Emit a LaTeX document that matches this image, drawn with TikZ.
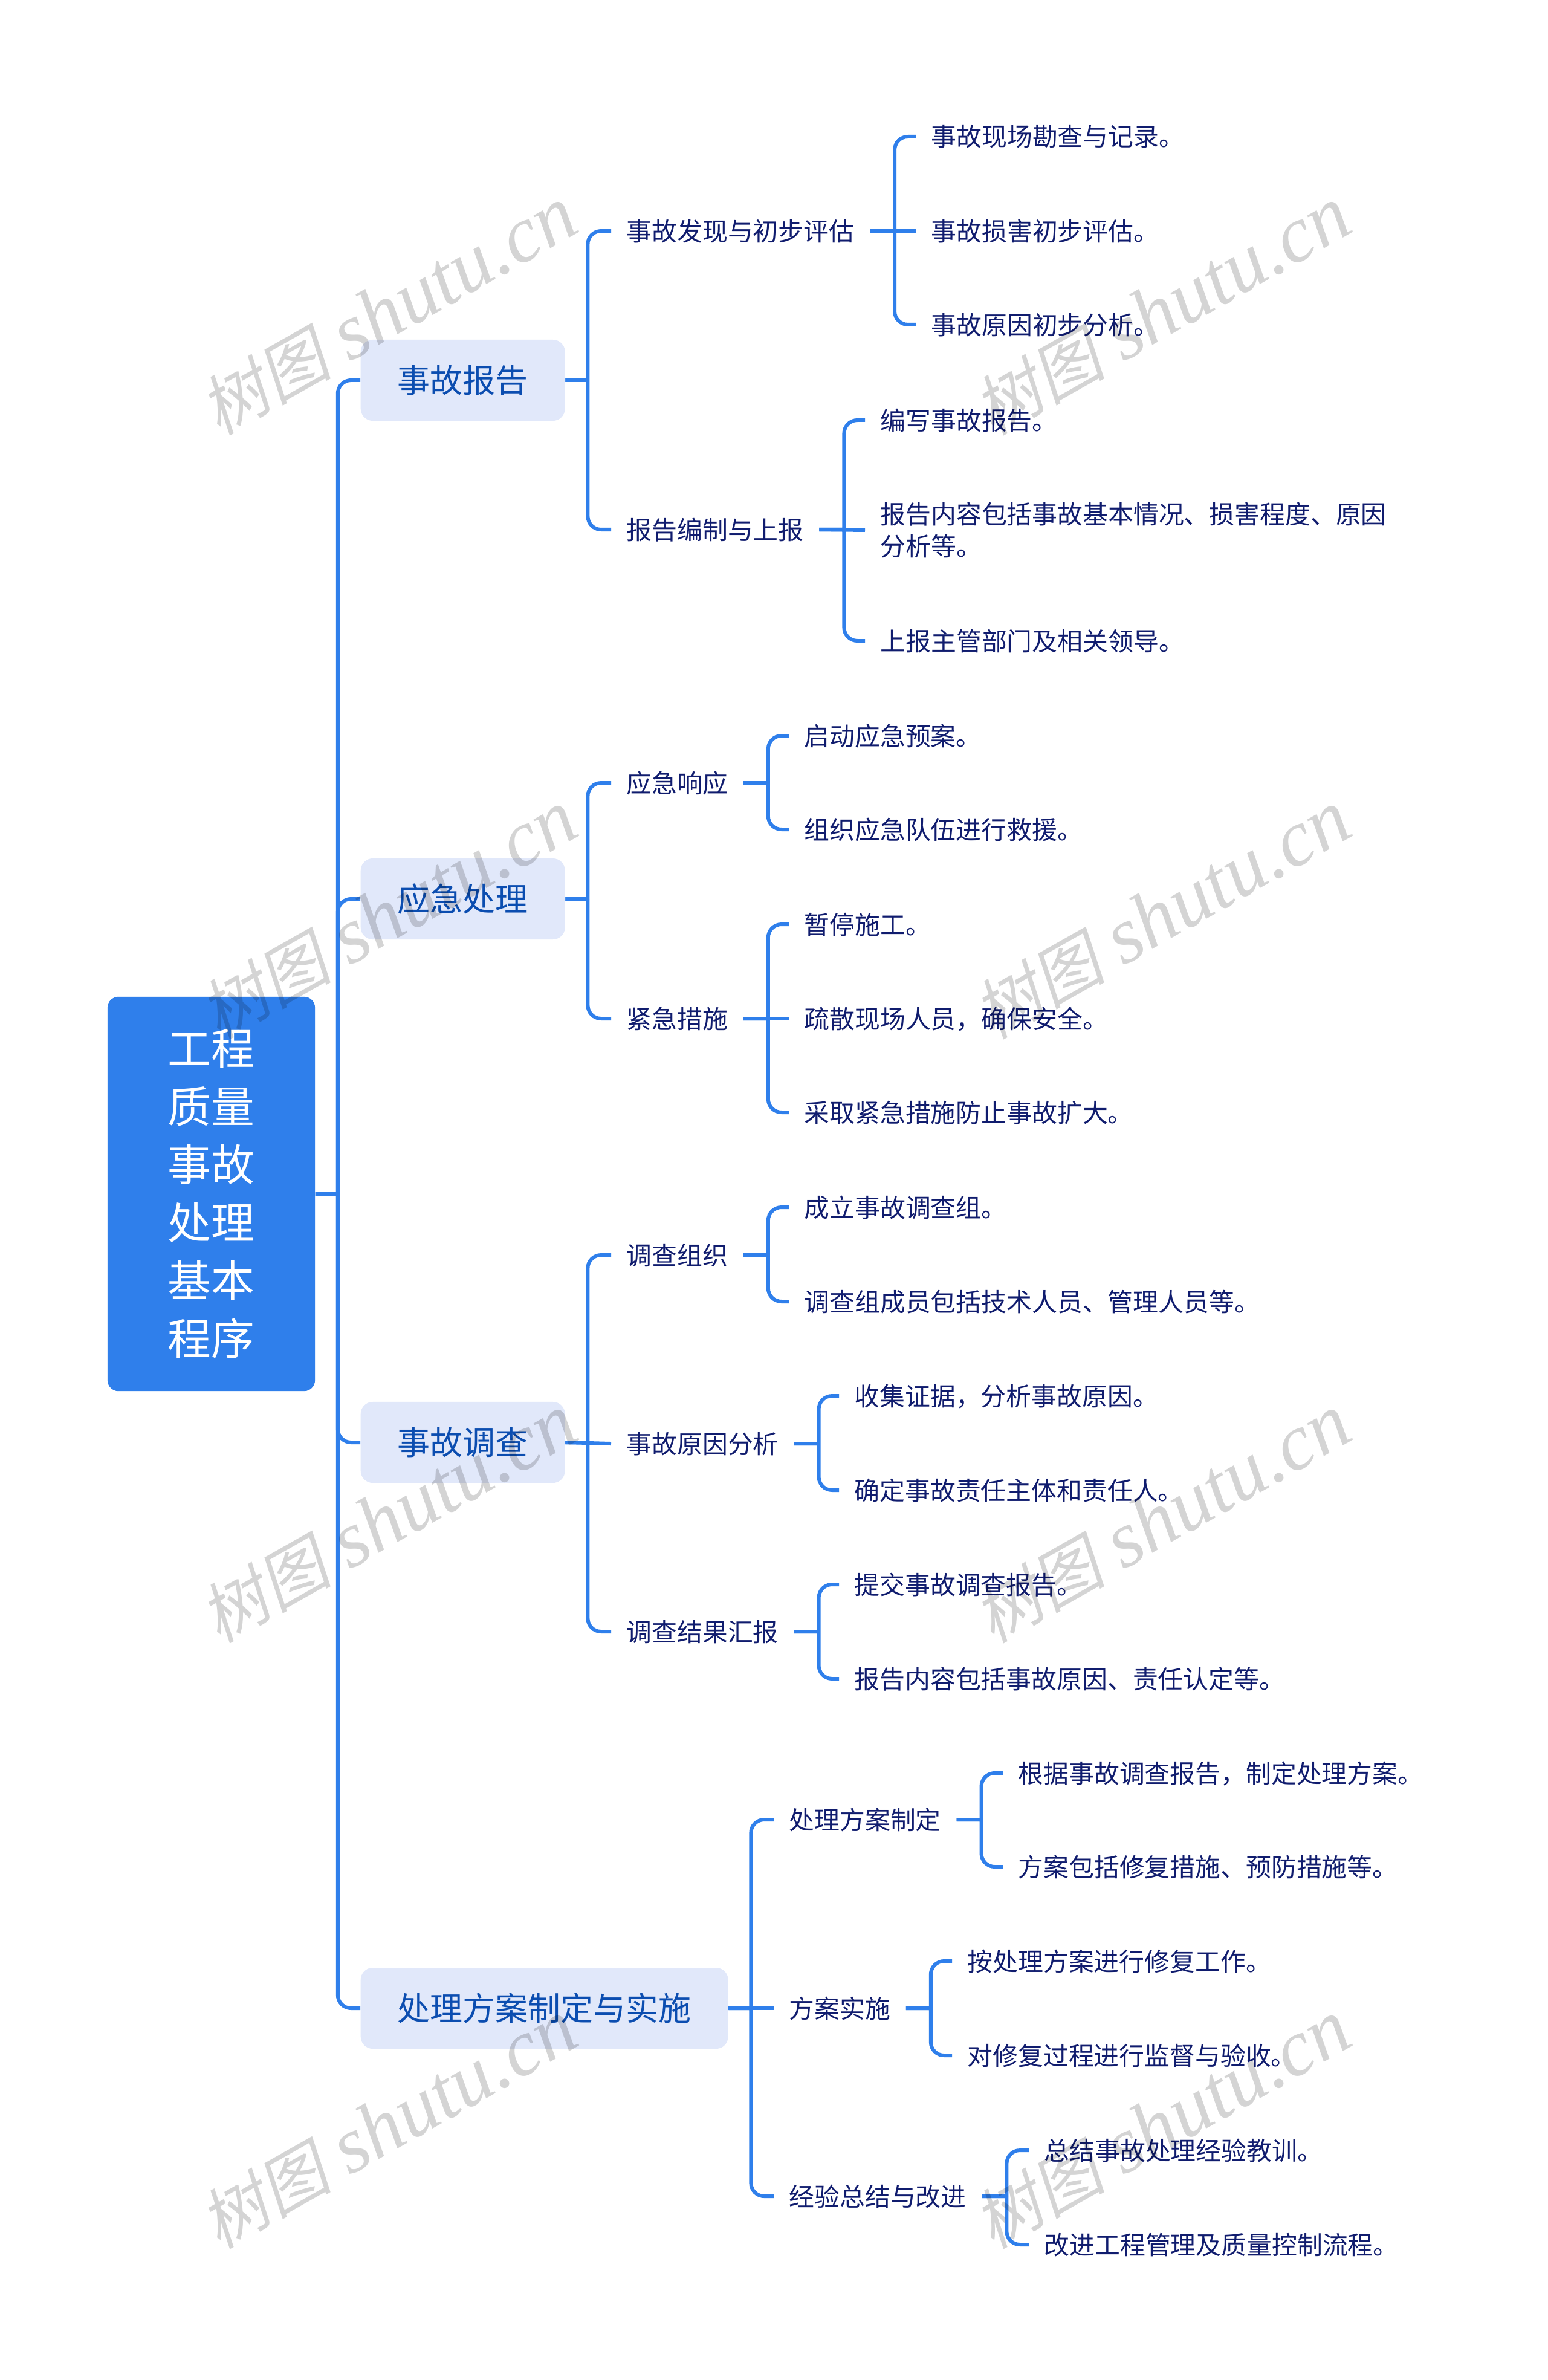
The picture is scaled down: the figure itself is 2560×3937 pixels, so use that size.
\documentclass[tikz,border=0pt]{standalone}
\usepackage{fontspec}
\setmainfont{Noto Sans CJK SC}
\newfontfamily\wmcjk[FakeSlant=0.2]{Noto Sans CJK SC}
\newfontfamily\wmlat{Liberation Serif}
\definecolor{rootblue}{HTML}{2F7FEB}
\definecolor{paleblue}{HTML}{E1E8FA}
\definecolor{deepblue}{HTML}{0B4DB0}
\definecolor{navytext}{HTML}{101C6E}
\newcommand{\wmtext}{{\wmcjk\fontsize{31}{40}\selectfont 树图} {\wmlat\itshape shutu.cn}}
\tikzset{
    link/.style={draw=rootblue, line width=0.06cm, rounded corners=0.22cm},
    rootbox/.style={fill=rootblue, text=white, rounded corners=0.18cm, inner sep=0pt, minimum width=3.43cm, minimum height=6.52cm, align=center, font=\fontsize{20.4}{27.3}\selectfont},
    lvla/.style={fill=paleblue, text=deepblue, rounded corners=0.2cm, anchor=west, inner xsep=0.61cm, inner ysep=0pt, minimum height=1.34cm, text height=0.47cm, text depth=0.07cm, font=\fontsize{15.35}{18}\selectfont},
    lvlb/.style={text=navytext, anchor=west, inner xsep=0.25cm, inner ysep=0pt, text height=0.37cm, text depth=0.05cm, font=\fontsize{11.9}{15}\selectfont},
    lvlc/.style={lvlb, align=left},
    wmark/.style={text=black, text opacity=0.17, rotate=29.5, inner sep=0pt, font=\fontsize{37.5}{40}\selectfont},
}
\begin{document}
\begin{tikzpicture}[x=0.01cm, y=-0.01cm]
    \useasboundingbox (0,0) rectangle (2560,3937);
    \def\xa{1011}
    \def\xb{1280}

    \node[rootbox] (root) at (349.5,1975) {工程\\质量\\事故\\处理\\基本\\程序};
    \node[lvla] (baogao) at (596,629) {事故报告};
    \node[lvla] (yingji) at (596,1487) {应急处理};
    \node[lvla] (diaocha) at (596,2386) {事故调查};
    \node[lvla] (chuli) at (596,3322) {处理方案制定与实施};

    % second level
    \node[lvlb] (faxian) at (\xa,382) {事故发现与初步评估};
    \node[lvlb] (bianzhi) at (\xa,876) {报告编制与上报};
    \node[lvlb] (xiangying) at (\xa,1295) {应急响应};
    \node[lvlb] (cuoshi) at (\xa,1685) {紧急措施};
    \node[lvlb] (zuzhi) at (\xa,2076) {调查组织};
    \node[lvlb] (yuanyin) at (\xa,2388) {事故原因分析};
    \node[lvlb] (huibao) at (\xa,2699) {调查结果汇报};
    \node[lvlb] (zhiding) at (\xb,3010) {处理方案制定};
    \node[lvlb] (shishi) at (\xb,3322) {方案实施};
    \node[lvlb] (zongjie) at (\xb,3633) {经验总结与改进};

    % leaves
    \node[lvlc] (faxiana) at (1515,226) {事故现场勘查与记录。};
    \node[lvlc] (faxianb) at (1515,382) {事故损害初步评估。};
    \node[lvlc] (faxianc) at (1515,537) {事故原因初步分析。};
    \node[lvlc] (bianzhia) at (1431,695) {编写事故报告。};
    \node[lvlc, text height=0.90cm] (bianzhib) at (1431,877) {报告内容包括事故基本情况、损害程度、原因\\分析等。};
    \node[lvlc] (bianzhic) at (1431,1060) {上报主管部门及相关领导。};
    \node[lvlc] (xiangyinga) at (1305,1217) {启动应急预案。};
    \node[lvlc] (xiangyingb) at (1305,1372) {组织应急队伍进行救援。};
    \node[lvlc] (cuoshia) at (1305,1529) {暂停施工。};
    \node[lvlc] (cuoshib) at (1305,1685) {疏散现场人员，确保安全。};
    \node[lvlc] (cuoshic) at (1305,1840) {采取紧急措施防止事故扩大。};
    \node[lvlc] (zuzhia) at (1305,1997) {成立事故调查组。};
    \node[lvlc] (zuzhib) at (1305,2153) {调查组成员包括技术人员、管理人员等。};
    \node[lvlc] (yuanyina) at (1388,2309) {收集证据，分析事故原因。};
    \node[lvlc] (yuanyinb) at (1388,2465) {确定事故责任主体和责任人。};
    \node[lvlc] (huibaoa) at (1388,2621) {提交事故调查报告。};
    \node[lvlc] (huibaob) at (1388,2777) {报告内容包括事故原因、责任认定等。};
    \node[lvlc] (zhidinga) at (1659,2933) {根据事故调查报告，制定处理方案。};
    \node[lvlc] (zhidingb) at (1659,3088) {方案包括修复措施、预防措施等。};
    \node[lvlc] (shishia) at (1575,3244) {按处理方案进行修复工作。};
    \node[lvlc] (shishib) at (1575,3400) {对修复过程进行监督与验收。};
    \node[lvlc] (zongjiea) at (1702,3557) {总结事故处理经验教训。};
    \node[lvlc] (zongjieb) at (1702,3713) {改进工程管理及质量控制流程。};

    % root links
    \draw[link] (root.east) -- ++(37,0) ++(0,0) |- (baogao.west);
    \draw[link] (root.east) -- ++(37,0) ++(0,0) |- (yingji.west);
    \draw[link] (root.east) -- ++(37,0) ++(0,0) |- (diaocha.west);
    \draw[link] (root.east) -- ++(37,0) ++(0,0) |- (chuli.west);
    % first level links
    \draw[link] (baogao.east) -- ++(37,0) ++(0,0) |- (faxian.west);
    \draw[link] (baogao.east) -- ++(37,0) ++(0,0) |- (bianzhi.west);
    \draw[link] (yingji.east) -- ++(37,0) ++(0,0) |- (xiangying.west);
    \draw[link] (yingji.east) -- ++(37,0) ++(0,0) |- (cuoshi.west);
    \draw[link] (diaocha.east) -- ++(37,0) ++(0,0) |- (zuzhi.west);
    \draw[link] (diaocha.east) -- (yuanyin.west);
    \draw[link] (diaocha.east) -- ++(37,0) ++(0,0) |- (huibao.west);
    \draw[link] (chuli.east) -- ++(37,0) ++(0,0) |- (zhiding.west);
    \draw[link] (chuli.east) -- (shishi.west);
    \draw[link] (chuli.east) -- ++(37,0) ++(0,0) |- (zongjie.west);
    % second level links
    \draw[link] (faxian.east) -- ++(41,0) ++(0,0) |- (faxiana.west);
    \draw[link] (faxian.east) -- (faxianb.west);
    \draw[link] (faxian.east) -- ++(41,0) ++(0,0) |- (faxianc.west);
    \draw[link] (bianzhi.east) -- ++(41,0) ++(0,0) |- (bianzhia.west);
    \draw[link] (bianzhi.east) -- (bianzhib.west);
    \draw[link] (bianzhi.east) -- ++(41,0) ++(0,0) |- (bianzhic.west);
    \draw[link] (xiangying.east) -- ++(41,0) ++(0,0) |- (xiangyinga.west);
    \draw[link] (xiangying.east) -- ++(41,0) ++(0,0) |- (xiangyingb.west);
    \draw[link] (cuoshi.east) -- ++(41,0) ++(0,0) |- (cuoshia.west);
    \draw[link] (cuoshi.east) -- (cuoshib.west);
    \draw[link] (cuoshi.east) -- ++(41,0) ++(0,0) |- (cuoshic.west);
    \draw[link] (zuzhi.east) -- ++(41,0) ++(0,0) |- (zuzhia.west);
    \draw[link] (zuzhi.east) -- ++(41,0) ++(0,0) |- (zuzhib.west);
    \draw[link] (yuanyin.east) -- ++(41,0) ++(0,0) |- (yuanyina.west);
    \draw[link] (yuanyin.east) -- ++(41,0) ++(0,0) |- (yuanyinb.west);
    \draw[link] (huibao.east) -- ++(41,0) ++(0,0) |- (huibaoa.west);
    \draw[link] (huibao.east) -- ++(41,0) ++(0,0) |- (huibaob.west);
    \draw[link] (zhiding.east) -- ++(41,0) ++(0,0) |- (zhidinga.west);
    \draw[link] (zhiding.east) -- ++(41,0) ++(0,0) |- (zhidingb.west);
    \draw[link] (shishi.east) -- ++(41,0) ++(0,0) |- (shishia.west);
    \draw[link] (shishi.east) -- ++(41,0) ++(0,0) |- (shishib.west);
    \draw[link] (zongjie.east) -- ++(41,0) ++(0,0) |- (zongjiea.west);
    \draw[link] (zongjie.east) -- ++(41,0) ++(0,0) |- (zongjieb.west);

    % watermarks
    \node[wmark] (wma) at (643,515) {\wmtext};
    \node[wmark] (wmb) at (643,1514) {\wmtext};
    \node[wmark] (wmc) at (643,2513) {\wmtext};
    \node[wmark] (wmd) at (643,3515) {\wmtext};
    \node[wmark] (wme) at (1923,515) {\wmtext};
    \node[wmark] (wmf) at (1923,1514) {\wmtext};
    \node[wmark] (wmg) at (1923,2513) {\wmtext};
    \node[wmark] (wmh) at (1923,3515) {\wmtext};
\end{tikzpicture}
\end{document}
